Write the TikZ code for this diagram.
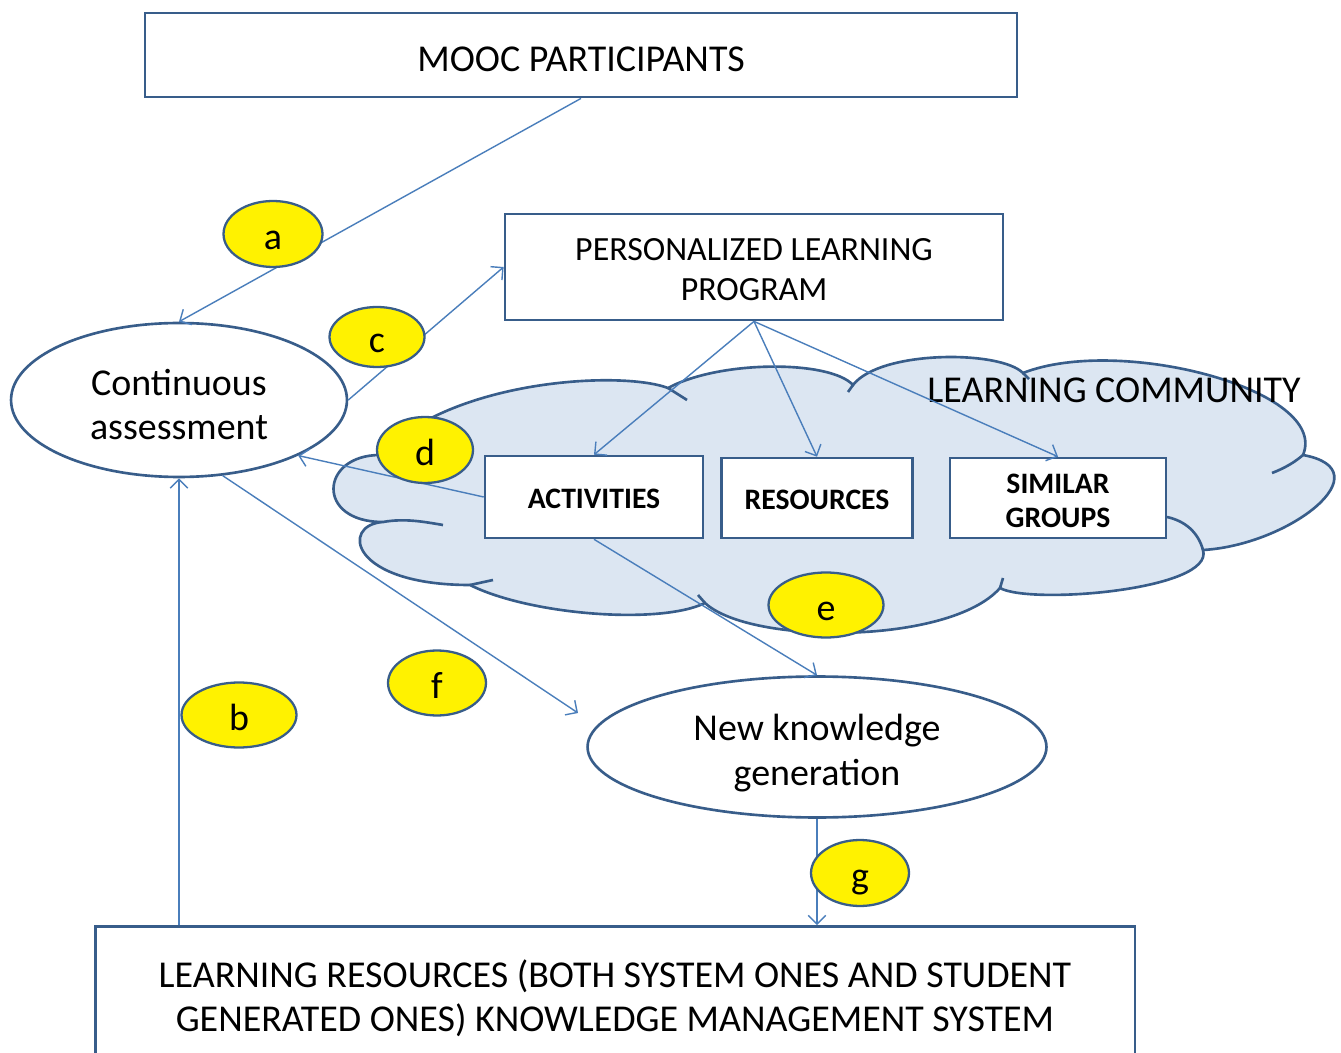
\documentclass[tikz,border=0pt]{standalone}
\usepackage{fontspec}
\setmainfont{Carlito}
\usetikzlibrary{shapes.geometric,arrows.meta}
\definecolor{boxblue}{HTML}{385D8A}
\definecolor{linkblue}{HTML}{4A7EBB}
\definecolor{cloudfill}{HTML}{DCE6F2}
\tikzset{
  box/.style={draw=boxblue, line width=1.6pt, fill=white, align=center, inner sep=0pt, font=\fontsize{21.6}{25}\selectfont},
  smallbox/.style={box, line width=1.5pt, font=\bfseries\fontsize{16.9}{19.3}\selectfont},
  oval/.style={ellipse, draw=boxblue, line width=1.5pt, fill=white, align=center, inner sep=0pt, font=\fontsize{21.6}{25.5}\selectfont},
  tag/.style={ellipse, draw=boxblue, line width=1.3pt, fill=yellow, inner sep=0pt, text height=18pt, text depth=0pt, font=\fontsize{21.6}{25}\selectfont},
  conn/.style={draw=linkblue, line width=0.8pt, -{Straight Barb[length=5pt,width=10pt]}},
  cloudline/.style={draw=boxblue, line width=1.5pt}
}
\begin{document}
\begin{tikzpicture}[x=0.02cm, y=-0.02cm]
        \clip (0,0) rectangle (1341,1053);

        % Nuvola della comunita'
        \draw[cloudline, fill=cloudfill]
            (380,455) .. controls (320,455) and (315,522) .. (383,522)
            .. controls (340,525) and (350,585) .. (470,585)
            .. controls (530,615) and (660,625) .. (705,603)
            .. controls (750,645) and (950,645) .. (1000,588)
            .. controls (1030,605) and (1215,590) .. (1203,550)
            .. controls (1290,545) and (1385,470) .. (1303,455)
            .. controls (1330,390) and (1120,335) .. (1023,373)
            .. controls (1000,350) and (880,350) .. (853,385)
            .. controls (830,360) and (720,360) .. (668,388)
            .. controls (620,370) and (450,380) .. (380,455) -- cycle;
        \draw[cloudline] (383,522) .. controls (405,518) and (425,522) .. (443,525);
        \draw[cloudline] (470,585) -- (493,580);
        \draw[cloudline] (698,595) -- (705,603);
        \draw[cloudline] (1000,588) -- (1003,578);
        \draw[cloudline] (1203,550) .. controls (1198,532) and (1185,521) .. (1167,517);
        \draw[cloudline] (1303,455) .. controls (1295,462) and (1285,468) .. (1272,473);
        \draw[cloudline] (853,385) -- (848,392);
        \draw[cloudline] (1023,373) -- (1029,379);
        \draw[cloudline] (668,388) -- (687,400);
        \node[font=\fontsize{21.6}{25}\selectfont, text height=16.2pt, text depth=0pt](nlc) at (1114,388) {LEARNING COMMUNITY};

        % Riquadri principali
        \node[box, text height=18.5pt, text depth=0pt, minimum width=17.44cm, minimum height=1.68cm](nmooc) at (581,55) {MOOC PARTICIPANTS};
        \node[box, font=\fontsize{19.3}{22.7}\selectfont, text height=38.7pt, minimum width=9.96cm, minimum height=2.12cm](nplp) at (754,267) {PERSONALIZED LEARNING\\PROGRAM};
        \node[box, minimum width=20.8cm, minimum height=2.86cm](nlrkms) at (615,998) {LEARNING RESOURCES (BOTH SYSTEM ONES AND STUDENT\\GENERATED ONES) KNOWLEDGE MANAGEMENT SYSTEM};

        % Riquadri dentro la nuvola
        \node[smallbox, text height=13pt, text depth=0pt, minimum width=4.36cm, minimum height=1.64cm](nact) at (594,497) {ACTIVITIES};
        \node[smallbox, text height=13pt, text depth=0pt, minimum width=3.82cm, minimum height=1.6cm](nres) at (817,498) {RESOURCES};
        \node[smallbox, text height=33.5pt, minimum width=4.32cm, minimum height=1.6cm](nsim) at (1058,498) {SIMILAR\\GROUPS};

        % Ellissi
        \node[oval, text height=45.6pt, minimum width=6.72cm, minimum height=3.08cm](ncont) at (179,400) {Continuous\\assessment};
        \node[oval, text height=47.2pt, minimum width=9.18cm, minimum height=2.82cm](nnew) at (817,747) {New knowledge\\generation};

        % Collegamenti
        \draw[conn] (nmooc.south) -- (ncont.north);
        \draw[conn] (ncont.east) -- (nplp.west);
        \draw[conn] (nplp.south) -- (nact.north);
        \draw[conn] (nplp.south) -- (nres.north);
        \draw[conn] (nplp.south) -- (nsim.north);
        \draw[conn] (nact.west) -- (ncont.-25);
        \coordinate (cf) at (578,713);
        \draw[conn] (ncont.-60) -- (cf);
        \draw[conn] (nact.south) -- (nnew.north);
        \draw[conn] (ncont.south |- nlrkms.north) -- (ncont.south);
        \draw[conn] (nnew.south) -- (nnew.south |- nlrkms.north);

        % Etichette gialle
        \node[tag, minimum width=1.98cm, minimum height=1.32cm](na) at (273,234) {a};
        \node[tag, minimum width=2.3cm, minimum height=1.3cm](nb) at (239,715) {b};
        \node[tag, minimum width=1.9cm, minimum height=1.2cm](nc) at (377,337) {c};
        \node[tag, minimum width=1.92cm, minimum height=1.32cm](nd) at (425,450) {d};
        \node[tag, minimum width=2.3cm, minimum height=1.3cm](ne) at (826,605) {e};
        \node[tag, minimum width=1.96cm, minimum height=1.3cm](nf) at (437,683) {f};
        \node[tag, minimum width=1.96cm, minimum height=1.32cm](ng) at (860,873) {g};
    \end{tikzpicture}
\end{document}
